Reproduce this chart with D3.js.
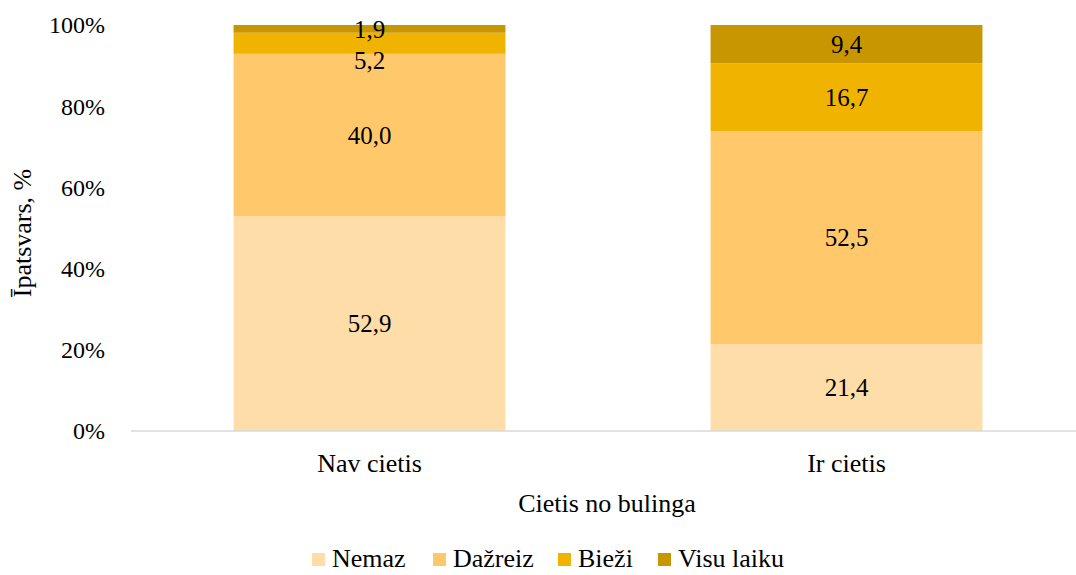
<!DOCTYPE html>
<html>
<head>
<meta charset="utf-8">
<script src="https://cdn.jsdelivr.net/npm/d3@7"></script>
<style>
  text { font-family: "Liberation Serif" !important; }
</style>
</head>
<body style="margin:0;background:#fff">
<svg width="1076" height="575"></svg>
<script>
// data
const categories = ["Nav cietis", "Ir cietis"];
const seriesNames = ["Nemaz", "Dažreiz", "Bieži", "Visu laiku"];
const nemaz = [52.9, 21.4];
const dazreiz = [40.0, 52.5];
const biezi = [5.2, 16.7];
const visuLaiku = [1.9, 9.4];
const yTicks = [0, 0.2, 0.4, 0.6, 0.8, 1];
const colors = ["#FFDDA8", "#FFC96B", "#F0B400", "#C89600"];

const svg = d3.select("svg").style("display", "block");
const width = 1076, height = 575;
const serif = '"Liberation Serif"';

// every label goes through here so the font is set on the text itself
function label(parent, size) {
    return parent.append("text")
        .attr("font-family", "Liberation Serif")
        .style("font-family", serif)
        .attr("font-size", size)
        .attr("fill", "#000");
}

const x = d3.scaleBand()
    .domain(categories)
    .range([131, 1085])
    .paddingInner(0.43)
    .paddingOuter(0.215);

const y = d3.scaleLinear().domain([0, 1]).range([431, 25]);

// build stacked rows
const rows = categories.map((c, i) => ({
    cat: c,
    "Nemaz": nemaz[i],
    "Dažreiz": dazreiz[i],
    "Bieži": biezi[i],
    "Visu laiku": visuLaiku[i]
}));
const stack = d3.stack().keys(seriesNames).offset(d3.stackOffsetExpand);
const series = stack(rows);

// bars
const g = svg.append("g");
series.forEach((s, si) => {
    g.selectAll(null)
        .data(s)
        .join("rect")
        .attr("x", d => x(d.data.cat))
        .attr("width", x.bandwidth())
        .attr("y", d => y(d[1]))
        .attr("height", d => y(d[0]) - y(d[1]))
        .attr("fill", colors[si]);
});

// x axis line
svg.append("line")
    .attr("x1", 131).attr("x2", width)
    .attr("y1", y(0)).attr("y2", y(0))
    .attr("stroke", "#d9d9d9")
    .attr("stroke-width", 1.5);

// y tick labels
yTicks.forEach(t => {
    label(svg, 24)
        .attr("x", 105)
        .attr("y", y(t))
        .attr("dy", "0.35em")
        .attr("text-anchor", "end")
        .text(d3.format(".0%")(t));
});

// x tick labels
categories.forEach(c => {
    label(svg, 26)
        .attr("x", x(c) + x.bandwidth() / 2)
        .attr("y", 472)
        .attr("text-anchor", "middle")
        .text(c);
});

// axis titles
label(svg, 26)
    .attr("x", 607).attr("y", 512)
    .attr("text-anchor", "middle")
    .text("Cietis no bulinga");

label(svg, 26)
    .attr("transform", "translate(31,233) rotate(-90)")
    .attr("text-anchor", "middle")
    .text("Īpatsvars, %");

// data labels (top to bottom, push down if overlapping)
const fmt = v => d3.format(".1f")(v).replace(".", ",");
categories.forEach((c, ci) => {
    let prev = -Infinity;
    for (let si = series.length - 1; si >= 0; si--) {
        const d = series[si][ci];
        let cy = (y(d[0]) + y(d[1])) / 2;
        if (cy < prev + 31) cy = prev + 31;
        prev = cy;
        label(svg, 25)
            .attr("x", x(c) + x.bandwidth() / 2)
            .attr("y", cy)
            .attr("dy", "0.35em")
            .attr("text-anchor", "middle")
            .text(fmt(d.data[seriesNames[si]]));
    }
});

// legend
const legendX = [312, 433, 558, 658];
seriesNames.forEach((name, i) => {
    svg.append("rect")
        .attr("x", legendX[i]).attr("y", 553)
        .attr("width", 13).attr("height", 13)
        .attr("fill", colors[i]);
    label(svg, 26)
        .attr("x", legendX[i] + 20).attr("y", 567)
        .text(name);
});
</script>
</body>
</html>
